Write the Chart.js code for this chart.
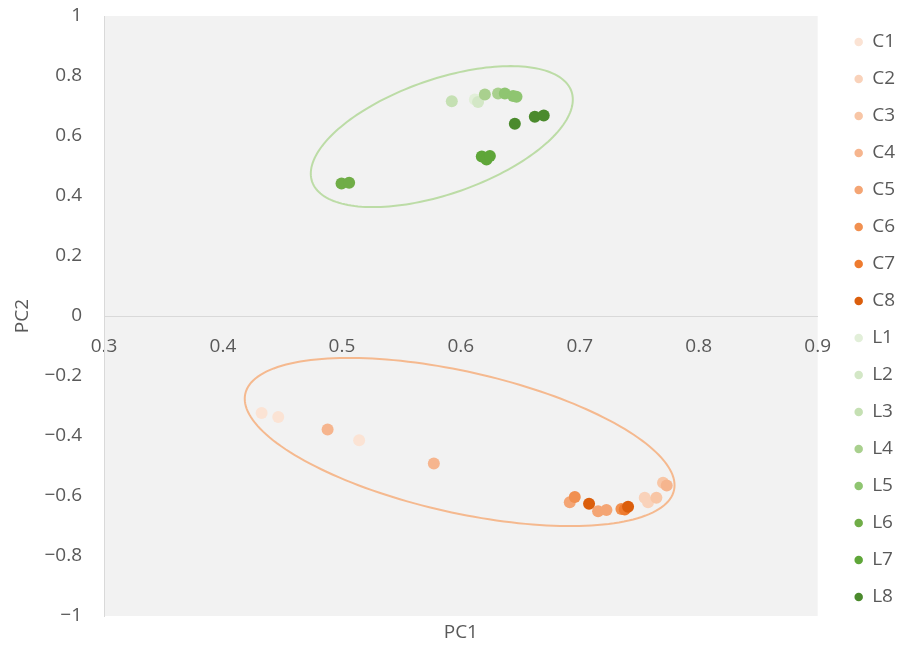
<!DOCTYPE html>
<html>
<head>
<meta charset="utf-8">
<title>PCA score plot</title>
<style>
  html, body { margin: 0; padding: 0; background: #ffffff; }
  #wrap { width: 898px; height: 651px; }
</style>
<script src="https://cdn.jsdelivr.net/npm/chart.js@4/dist/chart.umd.min.js"></script>
</head>
<body>
<div id="wrap"><canvas id="pca"></canvas></div>
<script>
// Sample scores, [PC1, PC2] per replicate
const C1 = [[0.4325, -0.323], [0.4465, -0.337], [0.5145, -0.414]];
const C2 = [[0.7546, -0.606], [0.7574, -0.621]];
const C3 = [[0.7644, -0.606], [0.7700, -0.556]];
const C4 = [[0.4880, -0.378], [0.5773, -0.492], [0.7731, -0.565]];
const C5 = [[0.6916, -0.621], [0.7154, -0.651], [0.7224, -0.647]];
const C6 = [[0.6958, -0.603], [0.7350, -0.643]];
const C7 = [[0.7378, -0.645]];
const C8 = [[0.7078, -0.626], [0.7406, -0.636]];
const L1 = [[0.6118, 0.722]];
const L2 = [[0.6145, 0.713]];
const L3 = [[0.5924, 0.716]];
const L4 = [[0.6202, 0.738], [0.6313, 0.742]];
const L5 = [[0.6370, 0.742], [0.6440, 0.733], [0.6468, 0.731]];
const L6 = [[0.4997, 0.442], [0.5061, 0.444]];
const L7 = [[0.6176, 0.532], [0.6216, 0.522], [0.6244, 0.533]];
const L8 = [[0.6454, 0.641], [0.6622, 0.664], [0.6697, 0.668]];

const seriesNames = ['C1', 'C2', 'C3', 'C4', 'C5', 'C6', 'C7', 'C8',
                     'L1', 'L2', 'L3', 'L4', 'L5', 'L6', 'L7', 'L8'];
const seriesValues = [C1, C2, C3, C4, C5, C6, C7, C8, L1, L2, L3, L4, L5, L6, L7, L8];
const seriesColors = ['#fbe3d4', '#f9d2ba', '#f8c6a6', '#f6b58e', '#f4a574', '#f19050', '#ee7b2f', '#db5e0c',
                      '#e2efd9', '#d3e7c6', '#c5e0b3', '#a9d08e', '#8fc571', '#70ad47', '#5fa639', '#4b8a2d'];

// Axis tick labels
const pc1Ticks = ['0.3', '0.4', '0.5', '0.6', '0.7', '0.8', '0.9'];
const pc2Ticks = ['\u22121', '\u22120.8', '\u22120.6', '\u22120.4', '\u22120.2', '0', '0.2', '0.4', '0.6', '0.8', '1'];

// Group ellipses: centre and two conjugate semi-diameters, all in score units
const groupEllipses = [
  { center: [0.584, 0.598],  u: [0.1090, 0.1507],  v: [0.0158, -0.1803], color: '#bcdca6' },
  { center: [0.5990, -0.4200], u: [0.1802, -0.1610], v: [-0.0130, -0.2293], color: '#f5b98f' }
];

const TEXT = '#595959';
const FONT = "'Open Sans', 'Noto Sans', sans-serif";

const datasets = seriesNames.map((name, i) => ({
  label: name,
  data: seriesValues[i].map(p => ({ x: p[0], y: p[1] })),
  backgroundColor: seriesColors[i],
  borderColor: seriesColors[i],
  borderWidth: 0,
  pointRadius: 6,
  pointHoverRadius: 6,
  order: seriesNames.length - i
}));

// Light grey plotting area
const plotBackground = {
  id: 'plotBackground',
  beforeDraw(chart) {
    const { ctx, chartArea: a } = chart;
    ctx.save();
    ctx.fillStyle = '#f2f2f2';
    ctx.fillRect(a.left, a.top, a.right - a.left, a.bottom - a.top);
    ctx.restore();
  }
};

// Ellipses around the two sample groups, traced through the chart scales
const groupOutline = {
  id: 'groupOutline',
  afterDatasetsDraw(chart) {
    const { ctx, scales: { x, y } } = chart;
    ctx.save();
    ctx.lineWidth = 2;
    groupEllipses.forEach(e => {
      ctx.beginPath();
      const n = 180;
      for (let k = 0; k <= n; k++) {
        const t = (k / n) * Math.PI * 2;
        const c = Math.cos(t), s = Math.sin(t);
        const px = x.getPixelForValue(e.center[0] + e.u[0] * c + e.v[0] * s);
        const py = y.getPixelForValue(e.center[1] + e.u[1] * c + e.v[1] * s);
        if (k === 0) ctx.moveTo(px, py); else ctx.lineTo(px, py);
      }
      ctx.closePath();
      ctx.strokeStyle = e.color;
      ctx.stroke();
    });
    ctx.restore();
  }
};

// Legend column sits a little further right and higher than the default box placement
const legendNudge = {
  id: 'legendNudge',
  afterLayout(chart) {
    const lg = chart.legend;
    if (lg) { lg.left += 19; lg.right += 19; lg.top -= 6; lg.bottom -= 6; }
  }
};

new Chart(document.getElementById('pca'), {
  type: 'scatter',
  data: { datasets },
  plugins: [plotBackground, groupOutline, legendNudge],
  options: {
    responsive: true,
    maintainAspectRatio: false,
    animation: false,
    layout: { padding: { top: 0, right: 12, bottom: 0, left: 0 } },
    plugins: {
      tooltip: { enabled: false },
      legend: {
        position: 'right',
        fullSize: true,
        reverse: true,
        labels: {
          usePointStyle: true,
          pointStyle: 'circle',
          boxWidth: 8,
          boxHeight: 6,
          padding: 18,
          color: TEXT,
          font: { family: FONT, size: 19 }
        }
      }
    },
    scales: {
      x: {
        type: 'linear',
        position: { y: 0 },
        min: 0.3, max: 0.9,
        grid: { display: false, drawTicks: false },
        border: { display: true, color: '#d9d9d9', width: 1 },
        ticks: {
          stepSize: 0.1,
          padding: 19,
          color: TEXT,
          font: { family: FONT, size: 19 },
          maxRotation: 0,
          callback: (v, i) => pc1Ticks[i]
        }
      },
      xTitle: {
        type: 'linear',
        axis: 'x',
        position: 'bottom',
        min: 0.3, max: 0.9,
        grid: { display: false, drawTicks: false },
        border: { display: false },
        ticks: { display: false },
        title: { display: true, text: 'PC1', color: TEXT, font: { family: FONT, size: 19 }, padding: { top: 0, bottom: 7 } },
        afterFit: s => { s.height = 35; }
      },
      y: {
        type: 'linear',
        position: 'left',
        min: -1, max: 1,
        grid: { display: false, drawTicks: false },
        border: { display: true, color: '#d9d9d9', width: 1 },
        ticks: {
          stepSize: 0.2,
          padding: 22,
          color: TEXT,
          font: { family: FONT, size: 19 },
          callback: (v, i) => pc2Ticks[i]
        },
        title: { display: true, text: 'PC2', color: TEXT, font: { family: FONT, size: 19 }, padding: { top: 11, bottom: 0 } },
        afterFit: s => { s.width = 104; s.paddingTop = 16; s.paddingBottom = 0; }
      }
    }
  }
});
</script>
</body>
</html>
